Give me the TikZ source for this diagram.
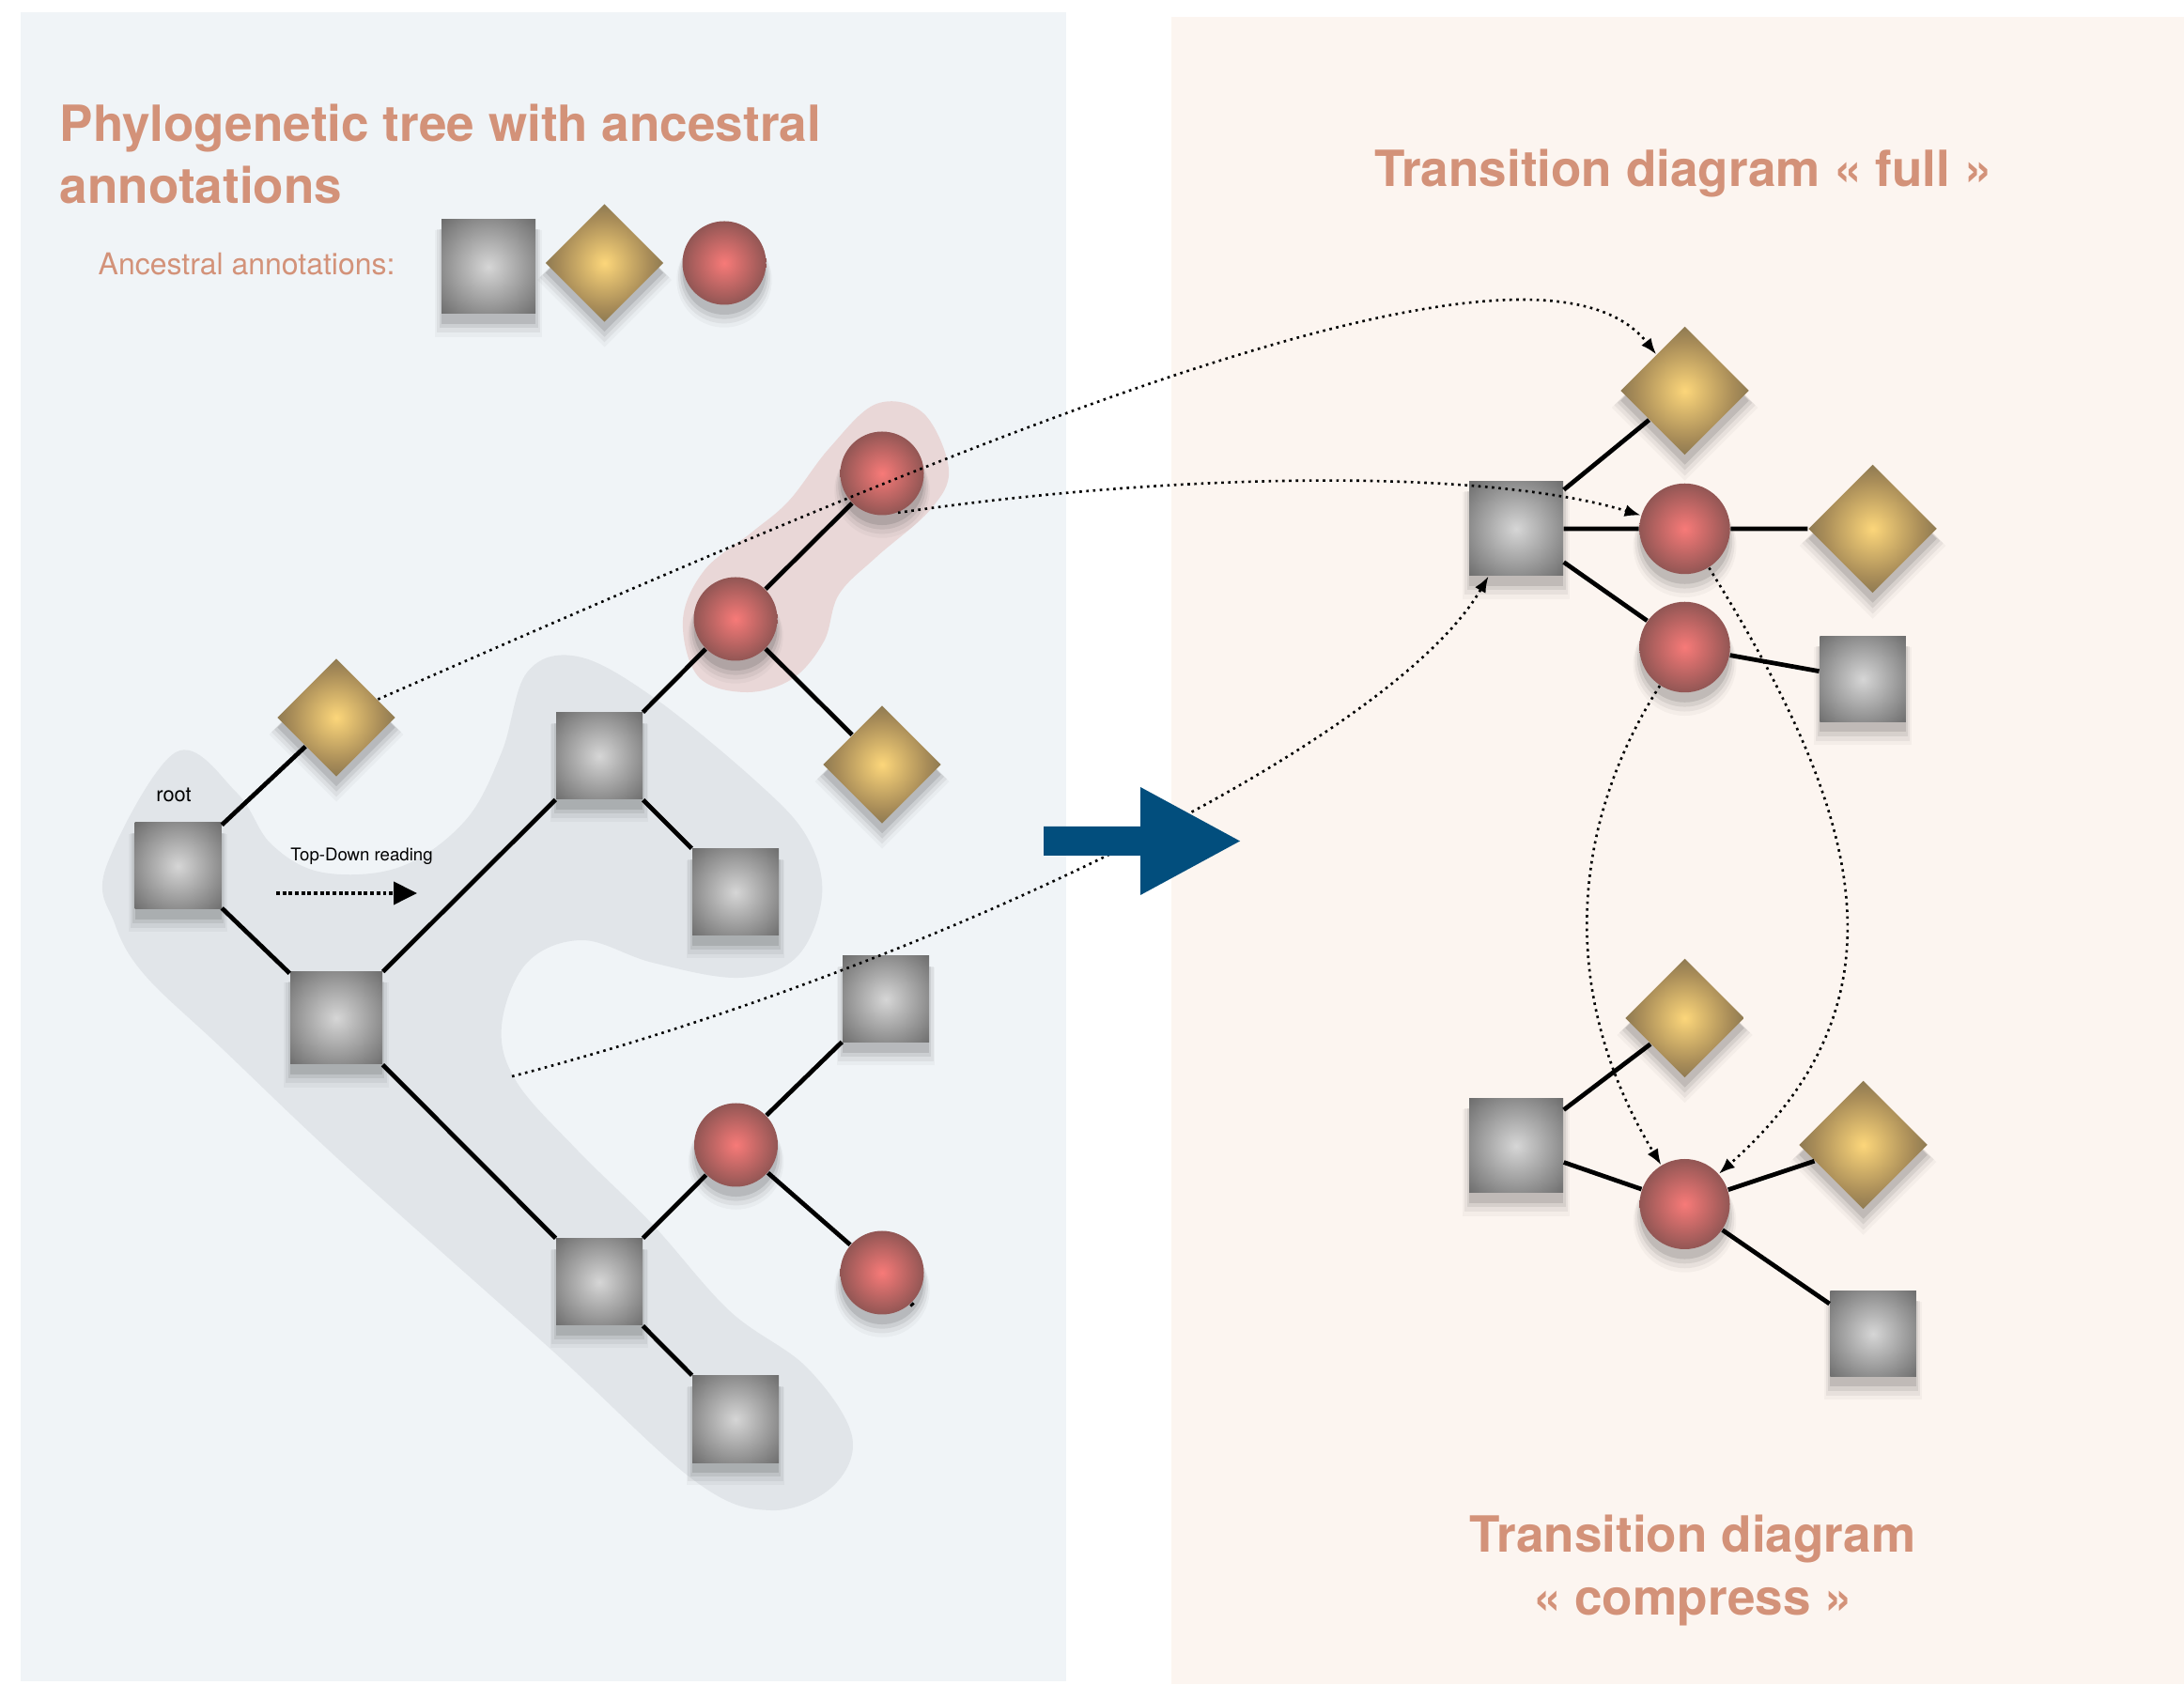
\documentclass[tikz,border=0pt]{standalone}
\usepackage{fontspec}
\setmainfont{TeX Gyre Heros}
\usetikzlibrary{shapes.geometric,arrows.meta,shadows}

\definecolor{leftbg}{RGB}{240,244,247}
\definecolor{rightbg}{RGB}{252,245,240}
\definecolor{grayblob}{RGB}{225,229,233}
\definecolor{pinkblob}{RGB}{233,215,215}
\definecolor{tcol}{RGB}{211,146,121}
\definecolor{tblue}{RGB}{2,78,125}
\definecolor{sqin}{RGB}{214,214,214}
\definecolor{sqout}{RGB}{108,108,108}
\definecolor{sqdark}{RGB}{76,76,76}
\definecolor{diain}{RGB}{252,214,122}
\definecolor{diamid}{RGB}{168,140,88}
\definecolor{diaout}{RGB}{96,90,72}
\definecolor{ballin}{RGB}{247,122,120}
\definecolor{ballout}{RGB}{146,86,84}

\pgfdeclareradialshading{sqshade}{\pgfpoint{0bp}{0bp}}{color(0bp)=(sqin); color(36bp)=(sqout); color(50bp)=(sqdark)}
\pgfdeclareradialshading{diashade}{\pgfpoint{0bp}{0bp}}{color(0bp)=(diain); color(19bp)=(diamid); color(36bp)=(diaout); color(50bp)=(diaout)}
\pgfdeclareradialshading{ballshade}{\pgfpoint{0bp}{0bp}}{color(0bp)=(ballin); color(25bp)=(ballout); color(50bp)=(ballout)}

\tikzset{
  soft/.style={
    drop shadow={shadow xshift=0pt,shadow yshift=-4.5pt,shadow scale=1.14,fill=black,opacity=0.03},
    drop shadow={shadow xshift=0pt,shadow yshift=-4pt,shadow scale=1.10,fill=black,opacity=0.05},
    drop shadow={shadow xshift=0pt,shadow yshift=-3.5pt,shadow scale=1.05,fill=black,opacity=0.07},
    drop shadow={shadow xshift=0pt,shadow yshift=-3pt,shadow scale=1.0,fill=black,opacity=0.10}},
  sqnode/.style={rectangle,minimum size=0.92cm,inner sep=0pt,shading=sqshade,soft},
  dianode/.style={diamond,minimum size=1.26cm,inner sep=0pt,shading=diashade,soft},
  ballnode/.style={circle,minimum size=0.89cm,inner sep=0pt,shading=ballshade,soft},
  link/.style={line width=1.35pt},
  hop/.style={line width=0.75pt,dash pattern=on 0.75pt off 1.3pt,-{Latex[length=1.7mm,width=1.3mm]}},
  title/.style={text=tcol,font=\fontsize{15.1}{18.8}\selectfont\bfseries,inner sep=0pt},
}

\begin{document}
\begin{tikzpicture}
\useasboundingbox (0,0) rectangle (23.25,17.93);
\fill[white] (0,0) rectangle (23.25,17.93);
\fill[leftbg] (0.22,0.03) rectangle (11.35,17.80);
\fill[rightbg] (12.47,0) rectangle (23.25,17.75);

\fill[grayblob] plot[smooth cycle,tension=0.6] coordinates {
  (1.13,8.70) (1.87,9.92) (2.52,9.49) (2.89,8.94) (3.44,8.64) (4.26,8.70) (4.95,9.19)
  (5.34,9.92) (5.61,10.77) (6.15,10.94) (6.95,10.51) (8.05,9.61) (8.59,9.02) (8.75,8.39)
  (8.48,7.74) (7.87,7.52) (6.95,7.68) (6.20,7.92) (5.61,7.68) (5.34,7.01) (5.50,6.41)
  (6.15,5.68) (6.95,4.89) (7.77,3.97) (8.59,3.37) (9.07,2.64) (8.86,2.10) (8.21,1.85)
  (7.40,2.16) (5.88,3.55) (3.71,5.49) (2.36,6.77) (1.54,7.55) (1.22,8.10)};
\fill[pinkblob] plot[smooth cycle,tension=0.6] coordinates {
  (7.27,11.33) (7.50,11.86) (8.00,12.26) (8.40,12.60) (8.83,13.16) (9.33,13.63) (9.83,13.53)
  (10.10,12.93) (9.90,12.50) (9.33,12.00) (8.93,11.60) (8.77,11.10) (8.43,10.70) (7.93,10.56)
  (7.43,10.73)};

\node[title,anchor=base west,align=left] at (0.63,15.76) {Phylogenetic tree with ancestral\\annotations};
\node[text=tcol,font=\fontsize{9.1}{10}\selectfont,inner sep=0pt,anchor=base west] at (1.04,15.00) {Ancestral annotations:};
\node[sqnode,minimum size=1cm] (k1) at (5.20,15.09) {};
\node[dianode] (k2) at (6.435,15.13) {};
\node[ballnode] (k3) at (7.71,15.13) {};

\node[sqnode] (t1) at (1.895,8.71) {};
\node[dianode] (t2) at (3.58,10.29) {};
\node[sqnode,minimum size=0.98cm] (t3) at (3.58,7.09) {};
\node[sqnode] (t4) at (6.38,9.88) {};
\node[ballnode] (t5) at (7.83,11.34) {};
\node[ballnode] (t6) at (9.39,12.89) {};
\node[dianode] (t7) at (9.39,9.79) {};
\node[sqnode] (t8) at (7.83,8.43) {};
\node[sqnode] (t9) at (6.38,4.28) {};
\node[ballnode] (t10) at (7.835,5.74) {};
\node[sqnode] (t11) at (9.43,7.29) {};
\node[ballnode] (t12) at (9.39,4.38) {};
\node[sqnode] (t13) at (7.83,2.82) {};
\coordinate (t12x) at (9.72,4.03);
\draw[link] (t1) -- (t2) (t1) -- (t3) (t3) -- (t4) (t4) -- (t5) (t5) -- (t6) (t5) -- (t7)
  (t4) -- (t8) (t3) -- (t9) (t9) -- (t10) (t10) -- (t11) (t10) -- (t12) (t9) -- (t13) (t12) -- (t12x);

\node[font=\fontsize{6.2}{7}\selectfont,inner sep=0pt,anchor=base] at (1.85,9.39) {root};
\node[font=\fontsize{5.3}{6}\selectfont,inner sep=0pt,anchor=base] at (3.85,8.76) {Top-Down reading};
\coordinate (rd0) at (2.94,8.42);
\coordinate (rd1) at (4.44,8.42);
\draw[line width=1.1pt,dash pattern=on 1.1pt off 0.8pt,-{Triangle[length=2.5mm,width=2.4mm]}] (rd0) -- (rd1);

\node[title,anchor=base] at (17.92,15.94) {Transition diagram « full »};
\node[dianode,minimum size=1.37cm] (f1) at (17.935,13.77) {};
\node[sqnode,minimum size=1cm] (f2) at (16.14,12.30) {};
\node[ballnode,minimum size=0.965cm] (f3) at (17.935,12.30) {};
\node[dianode,minimum size=1.37cm] (f4) at (19.935,12.30) {};
\node[ballnode,minimum size=0.965cm] (f5) at (17.935,11.04) {};
\node[sqnode,minimum size=0.915cm] (f6) at (19.83,10.70) {};
\draw[link] (f2) -- (f1) (f2) -- (f3) (f3) -- (f4) (f2) -- (f5) (f5) -- (f6);

\node[dianode,minimum size=1.27cm] (c1) at (17.935,7.09) {};
\node[sqnode,minimum size=1cm] (c2) at (16.14,5.73) {};
\node[ballnode,minimum size=0.96cm] (c3) at (17.935,5.11) {};
\node[dianode,minimum size=1.37cm] (c4) at (19.835,5.74) {};
\node[sqnode,minimum size=0.915cm] (c5) at (19.94,3.73) {};
\draw[link] (c2) -- (c1) (c2) -- (c3) (c3) -- (c4) (c3) -- (c5);
\node[title,anchor=base,align=center] at (18.02,0.74) {Transition diagram\\« compress »};

\coordinate (g0) at (5.45,6.47);
\draw[hop] (t2) .. controls (10,13.1) and (16.3,15.85) .. (f1);
\draw[hop] (t6.-68) .. controls (12.5,12.9) and (15.8,12.95) .. (f3);
\draw[hop] (g0) .. controls (9.8,7.6) and (14.8,10.0) .. (f2);
\draw[hop] (f3) .. controls (19.8,9.3) and (20.4,7.3) .. (c3);
\draw[hop] (f5) .. controls (16.75,9.2) and (16.55,7.4) .. (c3);

\fill[tblue] (11.11,9.13) -- (12.14,9.13) -- (12.14,9.55) -- (13.20,8.975) -- (12.14,8.40) -- (12.14,8.82) -- (11.11,8.82) -- cycle;
\end{tikzpicture}
\end{document}
